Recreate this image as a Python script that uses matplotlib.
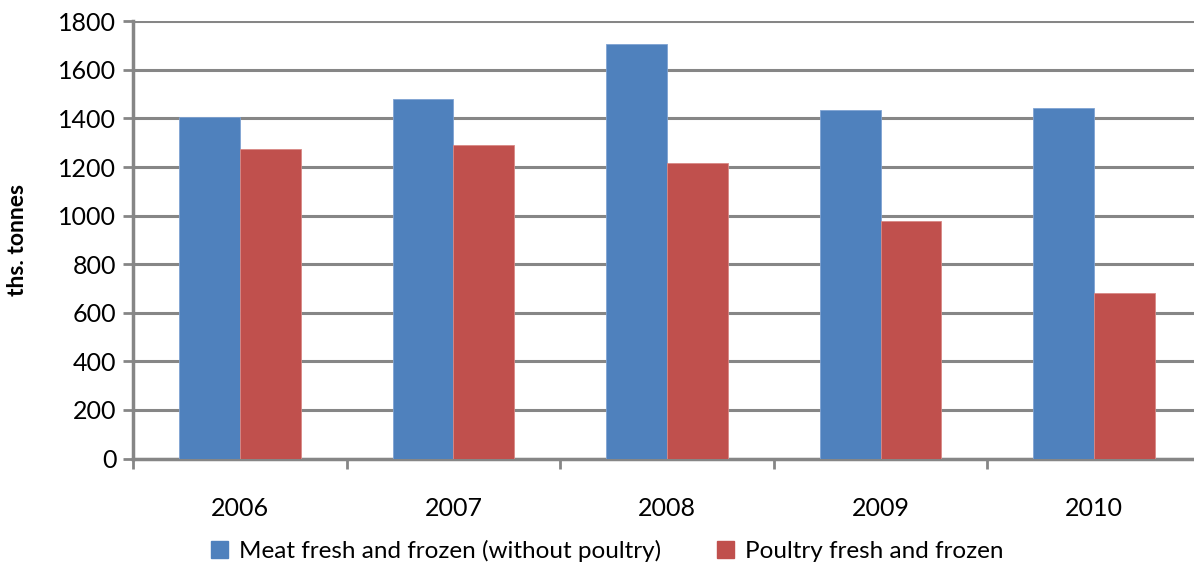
import matplotlib
matplotlib.use("Agg")
import matplotlib.pyplot as plt
import numpy as np
from matplotlib.patches import Patch

years = ["2006", "2007", "2008", "2009", "2010"]
meat = [1406, 1481, 1706, 1433, 1441]
poultry = [1275, 1290, 1217, 979, 681]
series_names = ["Meat fresh and frozen (without poultry)", "Poultry fresh and frozen"]
yticks = [0, 200, 400, 600, 800, 1000, 1200, 1400, 1600, 1800]

plt.rcParams['font.family'] = ['Lato', 'DejaVu Sans']

W, H = 1194, 564
fig = plt.figure(figsize=(W / 100, H / 100), dpi=100)
left, right, bottom, top = 133, 1201, 458.5, 21.3
ax = fig.add_axes([left / W, (H - bottom) / H, (right - left) / W, (bottom - top) / H])

blue = "#4F81BD"
red = "#C0504D"
grey = "#868686"

x = np.arange(len(years))
bw = 0.285
ax.bar(x - bw / 2, meat, bw, color=blue, edgecolor="#7FA3D3", linewidth=0.6, zorder=3)
ax.bar(x + bw / 2, poultry, bw, color=red, edgecolor="#D88985", linewidth=0.6, zorder=3)

ax.set_xlim(-0.5, len(years) - 0.5)
ax.set_ylim(0, 1800)
ax.set_yticks(yticks)
ax.set_yticklabels([str(v) for v in yticks], fontsize=18)
ax.set_xticks(x)
ax.set_xticklabels(years, fontsize=18)
ax.set_xticks(np.arange(-0.5, len(years)), minor=True)
ax.tick_params(axis='x', which='major', length=0, pad=28)
ax.tick_params(axis='x', which='minor', length=7, width=2, color=grey)
ax.tick_params(axis='y', which='major', length=7, width=2, color=grey, pad=5)

ax.grid(axis='y', color=grey, linewidth=2.2, zorder=1)
ax.set_axisbelow(True)
for s in ['top', 'right']:
    ax.spines[s].set_visible(False)
for s in ['left', 'bottom']:
    ax.spines[s].set_color(grey)
    ax.spines[s].set_linewidth(2.5)

ax.set_ylabel("ths. tonnes", fontsize=16.5, fontweight='bold', va='center')
ax.yaxis.set_label_coords(18 / W, 1 - 240 / H, transform=fig.transFigure)

handles = [Patch(facecolor=blue, edgecolor=blue), Patch(facecolor=red, edgecolor=red)]
fig.legend(handles, series_names, loc='center', bbox_to_anchor=(607 / W, 1 - 551 / H),
           ncol=2, frameon=False, fontsize=17.5, handlelength=0.7, handleheight=0.7,
           handletextpad=0.45, columnspacing=2.3, borderaxespad=0)

fig.savefig("out.png", dpi=100)
